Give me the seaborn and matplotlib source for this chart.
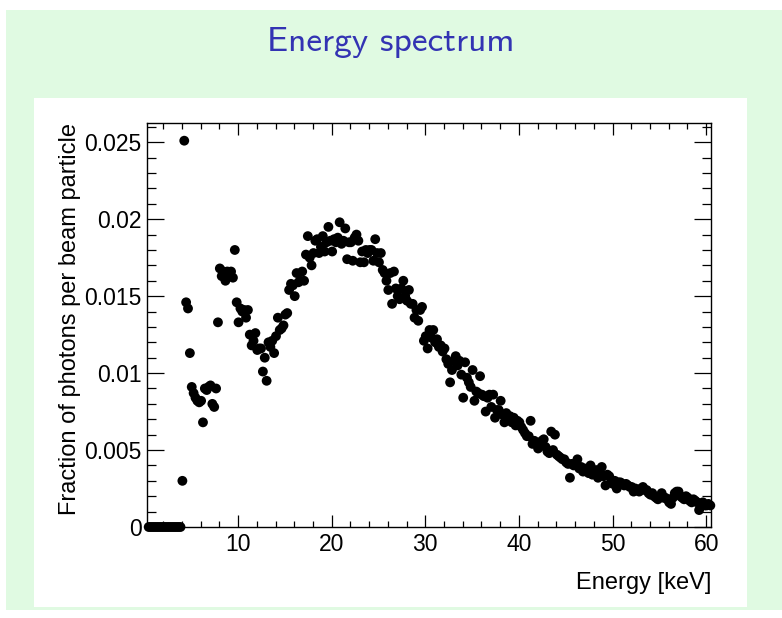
import numpy as np
import matplotlib
matplotlib.use("Agg")
import matplotlib.pyplot as plt
from matplotlib.patches import Rectangle
from matplotlib.ticker import MultipleLocator, FixedLocator
import seaborn as sns

# ---------------- data ----------------
bin_width = 0.2          # keV
first_center = 0.45      # keV
fraction = [
    # 0.45 .. 0.85
    0.0, 0.0, 0.0,
    # 1 .. 3 keV
    0.0, 0.0, 0.0, 0.0, 0.0,
    0.0, 0.0, 0.0, 0.0, 0.0,
    0.0, 0.0, 0.0, 0.0, 0.0,
    # 4
    0.0030, 0.0251, 0.0146, 0.0142, 0.0113,
    # 5
    0.0091, 0.0087, 0.0084, 0.0082, 0.0081,
    # 6
    0.0082, 0.0068, 0.0090, 0.0089, 0.0091,
    # 7
    0.0092, 0.0080, 0.0078, 0.0090, 0.0133,
    # 8
    0.0168, 0.0163, 0.0166, 0.0160, 0.0166,
    # 9
    0.0165, 0.0166, 0.0162, 0.0180, 0.0146,
    # 10
    0.0133, 0.0142, 0.0140, 0.0141, 0.0136,
    # 11
    0.0141, 0.0125, 0.0118, 0.0121, 0.0126,
    # 12
    0.0115, 0.0116, 0.0116, 0.0101, 0.0110,
    # 13
    0.0095, 0.0120, 0.0117, 0.0121, 0.0113,
    # 14
    0.0124, 0.0136, 0.0128, 0.0129, 0.0131,
    # 15
    0.0138, 0.0139, 0.0154, 0.0158, 0.0157,
    # 16
    0.0150, 0.0165, 0.0159, 0.0160, 0.0166,
    # 17
    0.0160, 0.0177, 0.0189, 0.0175, 0.0170,
    # 18
    0.0178, 0.0186, 0.0187, 0.0178, 0.0182,
    # 19
    0.0189, 0.0179, 0.0185, 0.0195, 0.0186,
    # 20
    0.0179, 0.0187, 0.0185, 0.0188, 0.0198,
    # 21
    0.0184, 0.0186, 0.0194, 0.0174, 0.0185,
    # 22
    0.0185, 0.0173, 0.0188, 0.0190, 0.0186,
    # 23
    0.0172, 0.0179, 0.0172, 0.0180, 0.0178,
    # 24
    0.0180, 0.0180, 0.0173, 0.0187, 0.0178,
    # 25
    0.0172, 0.0178, 0.0167, 0.0165, 0.0160,
    # 26
    0.0154, 0.0165, 0.0145, 0.0166, 0.0155,
    # 27
    0.0150, 0.0148, 0.0155, 0.0160, 0.0150,
    # 28
    0.0147, 0.0154, 0.0145, 0.0145, 0.0136,
    # 29
    0.0141, 0.0134, 0.0141, 0.0143, 0.0121,
    # 30
    0.0124, 0.0116, 0.0128, 0.0123, 0.0128,
    # 31
    0.0120, 0.0122, 0.0117, 0.0118, 0.0114,
    # 32
    0.0116, 0.0109, 0.0106, 0.0094, 0.0102,
    # 33
    0.0108, 0.0111, 0.0105, 0.0108, 0.0099,
    # 34
    0.0084, 0.0107, 0.0097, 0.0094, 0.0091,
    # 35
    0.0102, 0.0082, 0.0088, 0.0087, 0.0098,
    # 36
    0.0086, 0.0085, 0.0075, 0.0084, 0.0086,
    # 37
    0.0078, 0.0086, 0.0071, 0.0076, 0.0076,
    # 38
    0.0082, 0.0073, 0.0068, 0.0074, 0.0070,
    # 39
    0.0072, 0.0068, 0.0071, 0.0066, 0.0069,
    # 40
    0.0068, 0.0065, 0.0063, 0.0061, 0.0059,
    # 41
    0.0059, 0.0069, 0.0054, 0.0056, 0.0054,
    # 42
    0.0051, 0.0053, 0.0056, 0.0057, 0.0052,
    # 43
    0.0049, 0.0048, 0.0062, 0.0050, 0.0060,
    # 44
    0.0047, 0.0046, 0.0045, 0.0044, 0.0044,
    # 45
    0.0042, 0.0041, 0.0032, 0.0041, 0.0040,
    # 46
    0.0041, 0.0044, 0.0038, 0.0039, 0.0036,
    # 47
    0.0038, 0.0037, 0.0035, 0.0040, 0.0034,
    # 48
    0.0036, 0.0037, 0.0032, 0.0035, 0.0039,
    # 49
    0.0033, 0.0027, 0.0034, 0.0033, 0.0029,
    # 50
    0.0028, 0.0030, 0.0025, 0.0029, 0.0029,
    # 51
    0.0028, 0.0027, 0.0028, 0.0027, 0.0026,
    # 52
    0.0026, 0.0023, 0.0025, 0.0024, 0.0023,
    # 53
    0.0025, 0.0026, 0.0024, 0.0024, 0.0022,
    # 54
    0.0021, 0.0022, 0.0020, 0.0019, 0.0018,
    # 55
    0.0020, 0.0022, 0.0019, 0.0019, 0.0018,
    # 56
    0.0016, 0.0015, 0.0019, 0.0022, 0.0023,
    # 57
    0.0023, 0.0020, 0.0019, 0.0018, 0.0020,
    # 58
    0.0019, 0.0017, 0.0016, 0.0018, 0.0017,
    # 59
    0.0016, 0.0011, 0.0015, 0.0016, 0.0014,
    # 60
    0.0014, 0.0015, 0.0014,
]
energy = first_center + bin_width * np.arange(len(fraction))

x_ticks = [10, 20, 30, 40, 50, 60]
y_ticks = [0, 0.005, 0.01, 0.015, 0.02, 0.025]
y_tick_labels = ["0", "0.005", "0.01", "0.015", "0.02", "0.025"]

title_text = "Energy spectrum"
x_title = "Energy [keV]"
y_title = "Fraction of photons per beam particle"

# ---------------- figure ----------------
sns.set_style("ticks")
plt.rcParams["font.family"] = ["Liberation Sans", "DejaVu Sans"]
for key in ("text.color", "axes.labelcolor", "xtick.color", "ytick.color",
            "xtick.labelcolor", "ytick.labelcolor", "axes.edgecolor"):
    plt.rcParams[key] = "black"

W, H = 782, 618
fig = plt.figure(figsize=(W / 100, H / 100), dpi=100, facecolor="white")

def px_rect(x0, y0, x1, y1, color, z):
    fig.patches.append(Rectangle((x0 / W, 1 - y1 / H), (x1 - x0) / W, (y1 - y0) / H,
                                 transform=fig.transFigure, facecolor=color,
                                 edgecolor="none", zorder=z))

# slide background and white panel (behind the axes)
px_rect(6, 10, 782, 610, "#e0fae2", -3)
px_rect(34, 98, 747, 607, "white", -2)

fig.text(391 / W, 1 - 42 / H, title_text, family="cmss10", fontsize=25.5,
         color="#3333b3", ha="center", va="center")

L, R, T, B = 147, 711, 123, 527
ax = fig.add_axes([L / W, 1 - B / H, (R - L) / W, (B - T) / H])
ax.set_facecolor("white")

sns.scatterplot(x=energy, y=fraction, ax=ax, color="black", s=50,
                edgecolor="none", linewidth=0, clip_on=False, zorder=5, legend=False)

ax.set_xlim(0.27, 60.52)
ax.set_ylim(0, 0.02625)

ax.xaxis.set_major_locator(FixedLocator(x_ticks))
ax.xaxis.set_minor_locator(MultipleLocator(2))
ax.yaxis.set_major_locator(FixedLocator(y_ticks))
ax.yaxis.set_minor_locator(MultipleLocator(0.001))
ax.set_xticklabels([str(v) for v in x_ticks])
ax.set_yticklabels(y_tick_labels)

for s in ax.spines.values():
    s.set_visible(True)
    s.set_color("black")
    s.set_linewidth(1.0)

ax.tick_params(axis="x", which="major", direction="in", length=8.5, width=0.9,
               top=True, bottom=True, labelsize=16.5, pad=4, color="black",
               labelcolor="black")
ax.tick_params(axis="x", which="minor", direction="in", length=4.5, width=0.9,
               top=True, bottom=True, color="black")
ax.tick_params(axis="y", which="major", direction="in", length=12.5, width=0.9,
               left=True, right=True, labelsize=16.5, pad=4, color="black",
               labelcolor="black")
ax.tick_params(axis="y", which="minor", direction="in", length=6.5, width=0.9,
               left=True, right=True, color="black")

ax.set_xlabel(x_title, fontsize=17, loc="right", color="black")
ax.xaxis.set_label_coords(1.0, -0.112)
ax.set_ylabel(y_title, fontsize=17, loc="top", color="black")
ax.yaxis.set_label_coords(-0.117, 1.0)

fig.savefig("out.png", dpi=100, facecolor="white")
